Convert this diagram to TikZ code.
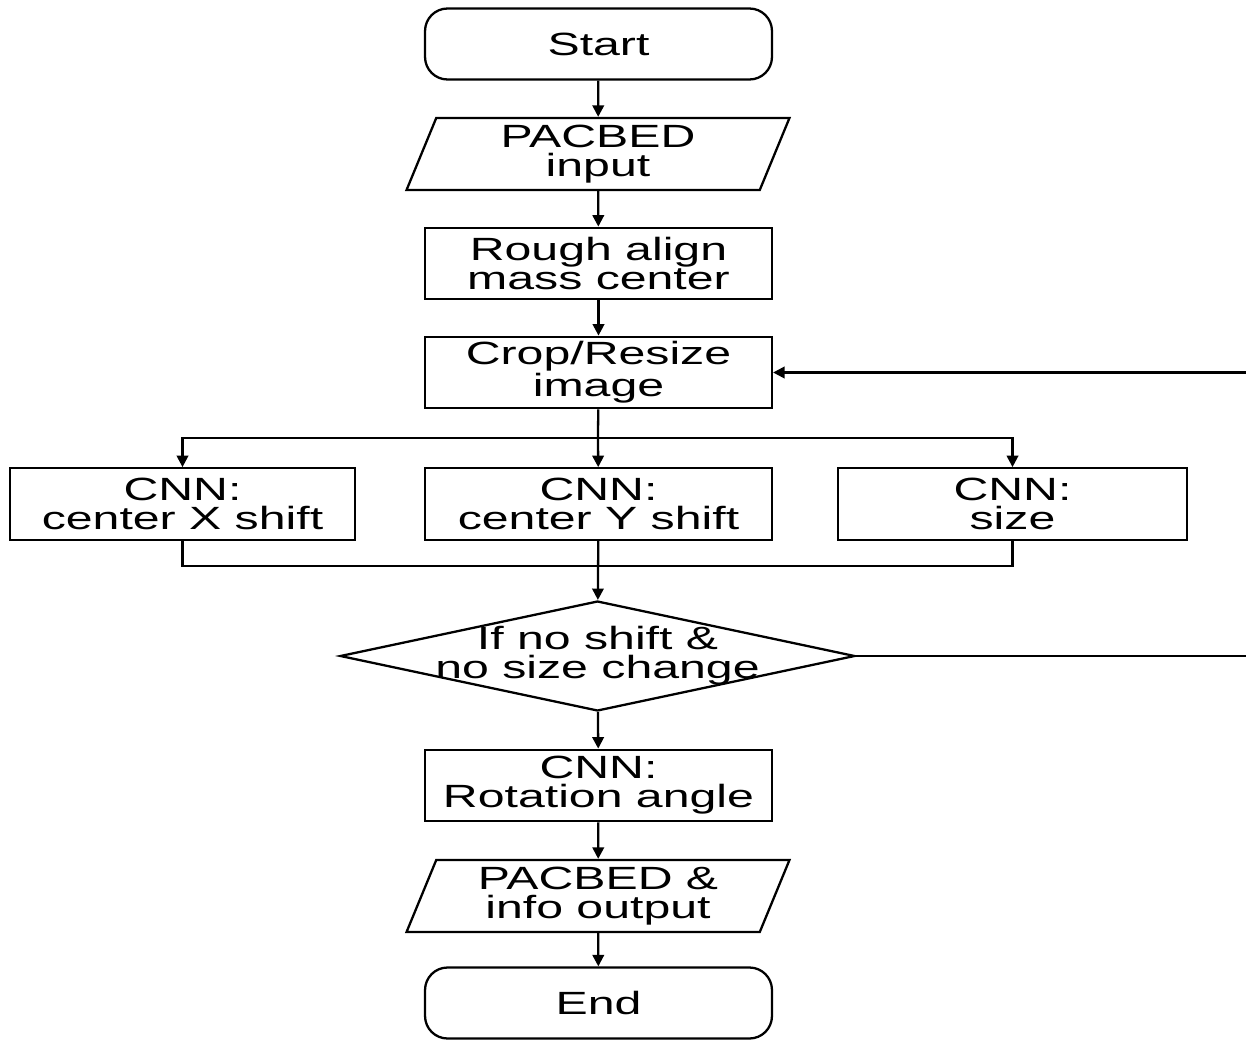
\documentclass[tikz,border=0pt]{standalone}
\usepackage{fontspec}
\newfontfamily\flowfont[FakeStretch=1.5]{Liberation Sans}
\usetikzlibrary{shapes.geometric,arrows.meta}

\begin{document}
\begin{tikzpicture}
        [x=0.02cm,y=-0.02cm,line width=1.3pt,
         every node/.style={font=\flowfont\fontsize{18.3}{16.6}\selectfont,align=center},
         term/.style={draw,rectangle,rounded corners=0.45cm,minimum width=6.94cm,minimum height=1.42cm},
         proc/.style={draw,rectangle,minimum width=6.94cm,minimum height=1.43cm,inner sep=0pt},
         io/.style={draw,trapezium,trapezium left angle=63,trapezium right angle=117,
                    trapezium stretches body=true,
                    minimum width=7.66cm,minimum height=1.44cm,inner sep=0pt},
         decision/.style={draw,diamond,minimum width=10.3cm,minimum height=2.2cm,inner sep=0pt},
         arr/.style={-{Triangle[length=6.5pt,width=6.5pt]}}]
        \useasboundingbox (0,0) rectangle (1246,1040);
        \clip (0,0) rectangle (1246,1040);

        \node[term] (start) at (598.5,44) {Start};
        \node[io] (input) at (598,154) {PACBED\\input};
        \node[proc] (rough) at (598.5,263.5) {Rough align\\mass center};
        \node[proc] (crop) at (598.5,372.5) {Crop/Resize\\image};
        \node[proc,minimum width=6.9cm] (cnnx) at (182.5,504) {CNN:\\center X shift};
        \node[proc] (cnny) at (598.5,504) {CNN:\\center Y shift};
        \node[proc,minimum width=6.98cm] (cnns) at (1012.5,504) {CNN:\\size};
        \node[decision,label={center:If no shift \&\\no size change}] (cond) at (597.5,656) {};
        \node[proc] (rot) at (598.5,785.5) {CNN:\\Rotation angle};
        \node[io] (output) at (598,896) {PACBED \&\\info output};
        \node[term] (end) at (598.5,1003) {End};

        \coordinate (split) at (598,438);
        \coordinate (merge) at (598,566);

        \draw[arr] (start) -- (input);
        \draw[arr] (input) -- (rough);
        \draw[arr] (rough) -- (crop);
        \draw (crop) -- (split);
        \draw[arr] (split) -| (cnnx);
        \draw[arr] (split) -- (cnny);
        \draw[arr] (split) -| (cnns);
        \draw (cnnx) |- (merge) -| (cnns);
        \draw[arr] (cnny) -- (cond);
        \draw[arr] (cond.east) -- ++(450,0) |- (crop.east);
        \draw[arr] (cond) -- (rot);
        \draw[arr] (rot) -- (output);
        \draw[arr] (output) -- (end);
      \end{tikzpicture}
\end{document}
